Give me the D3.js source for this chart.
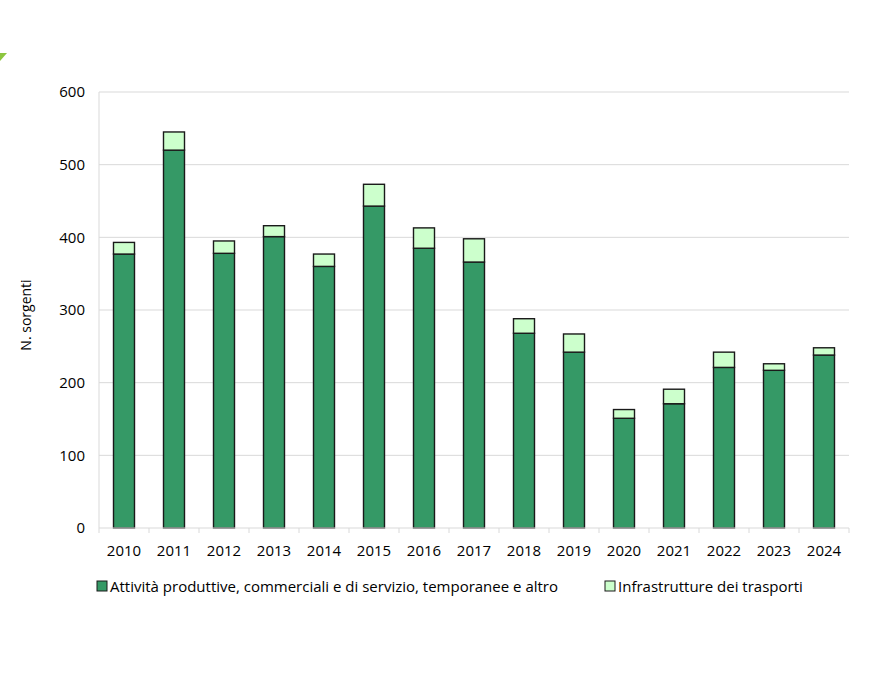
<!DOCTYPE html>
<html>
<head>
<meta charset="utf-8">
<script src="https://cdn.jsdelivr.net/npm/d3@7"></script>
<style>
  body { margin: 0; background: #fff; }
  svg text { font-family: "Open Sans", sans-serif; fill: #000; }
</style>
</head>
<body>
<div class="chart"></div>
<script>
const w = 882;
const h = 682;

// data
const years = ["2010", "2011", "2012", "2013", "2014", "2015", "2016", "2017",
  "2018", "2019", "2020", "2021", "2022", "2023", "2024"];
const attivita = [377, 520, 378, 401, 360, 443, 385, 366, 268, 242, 151, 171, 221, 217, 238];
const infrastrutture = [16, 25, 17, 15, 17, 30, 28, 32, 20, 25, 12, 20, 21, 9, 10];
const yTicks = [0, 100, 200, 300, 400, 500, 600];
const seriesNames = ["Attività produttive, commerciali e di servizio, temporanee e altro",
  "Infrastrutture dei trasporti"];
const colors = ["#359966", "#ccffcc"];

const plotLeft = 99, plotRight = 849, plotTop = 92, plotBottom = 528;

const svg = d3.select(".chart")
  .append("svg")
  .attr("width", w)
  .attr("height", h);

// little green corner mark
svg.append("path")
  .attr("d", "M0,53 L7,53 L0,61 Z")
  .attr("fill", "#8dc63f");

const xScale = d3.scaleBand()
  .domain(years)
  .range([plotLeft, plotRight])
  .paddingInner(0.58)
  .paddingOuter(0.29);

const yScale = d3.scaleLinear()
  .domain([0, 600])
  .range([plotBottom, plotTop]);

// gridlines
svg.append("g")
  .selectAll("line")
  .data(yTicks.slice(1))
  .enter()
  .append("line")
  .attr("x1", plotLeft)
  .attr("x2", plotRight)
  .attr("y1", (d) => yScale(d))
  .attr("y2", (d) => yScale(d))
  .attr("stroke", "#d9d9d9")
  .attr("stroke-width", 1);

// left axis line
svg.append("line")
  .attr("x1", plotLeft).attr("x2", plotLeft)
  .attr("y1", plotTop).attr("y2", plotBottom)
  .attr("stroke", "#d9d9d9");

// y labels
const yAxis = d3.axisLeft(yScale).tickValues(yTicks).tickSize(0).tickPadding(14);
const gy = svg.append("g")
  .attr("transform", `translate(${plotLeft},0)`)
  .call(yAxis);
gy.select(".domain").remove();
gy.selectAll("text").style("font-size", "15px").attr("fill", "#000");

// stacked bars
const rows = years.map((y, i) => ({ year: y, a: attivita[i], b: infrastrutture[i] }));
const stack = d3.stack().keys(["a", "b"])(rows);

svg.append("g")
  .selectAll("g")
  .data(stack)
  .enter()
  .append("g")
  .attr("fill", (d, i) => colors[i])
  .selectAll("rect")
  .data((d) => d)
  .enter()
  .append("rect")
  .attr("x", (d) => xScale(d.data.year))
  .attr("y", (d) => yScale(d[1]))
  .attr("width", xScale.bandwidth())
  .attr("height", (d) => yScale(d[0]) - yScale(d[1]))
  .attr("stroke", "#1a1a1a")
  .attr("stroke-width", 1.4);

// x axis
const gx = svg.append("g")
  .attr("transform", `translate(0,${plotBottom})`);
gx.append("line")
  .attr("x1", plotLeft).attr("x2", plotRight)
  .attr("stroke", "#d9d9d9");
gx.selectAll(".tk")
  .data(d3.range(years.length + 1))
  .enter()
  .append("line")
  .attr("class", "tk")
  .attr("x1", (i) => plotLeft + i * xScale.step())
  .attr("x2", (i) => plotLeft + i * xScale.step())
  .attr("y1", 0).attr("y2", 5)
  .attr("stroke", "#d9d9d9");
gx.selectAll("text")
  .data(years)
  .enter()
  .append("text")
  .attr("x", (d) => xScale(d) + xScale.bandwidth() / 2)
  .attr("y", 28)
  .attr("text-anchor", "middle")
  .style("font-size", "15px")
  .text((d) => d);

// y title
svg.append("text")
  .attr("transform", `translate(31,${(plotTop + plotBottom) / 2 + 5}) rotate(-90)`)
  .attr("text-anchor", "middle")
  .style("font-size", "14px")
  .text("N. sorgenti");

// legend
const legendX = [97, 605];
const legend = svg.append("g")
  .selectAll("g")
  .data(seriesNames)
  .enter()
  .append("g")
  .attr("transform", (d, i) => `translate(${legendX[i]},581)`);
legend.append("rect")
  .attr("width", 10).attr("height", 10)
  .attr("fill", (d, i) => colors[i])
  .attr("stroke", "#1a1a1a")
  .attr("stroke-width", 1);
legend.append("text")
  .attr("x", 13)
  .attr("y", 11)
  .style("font-size", "15px")
  .text((d) => d);
</script>
</body>
</html>
